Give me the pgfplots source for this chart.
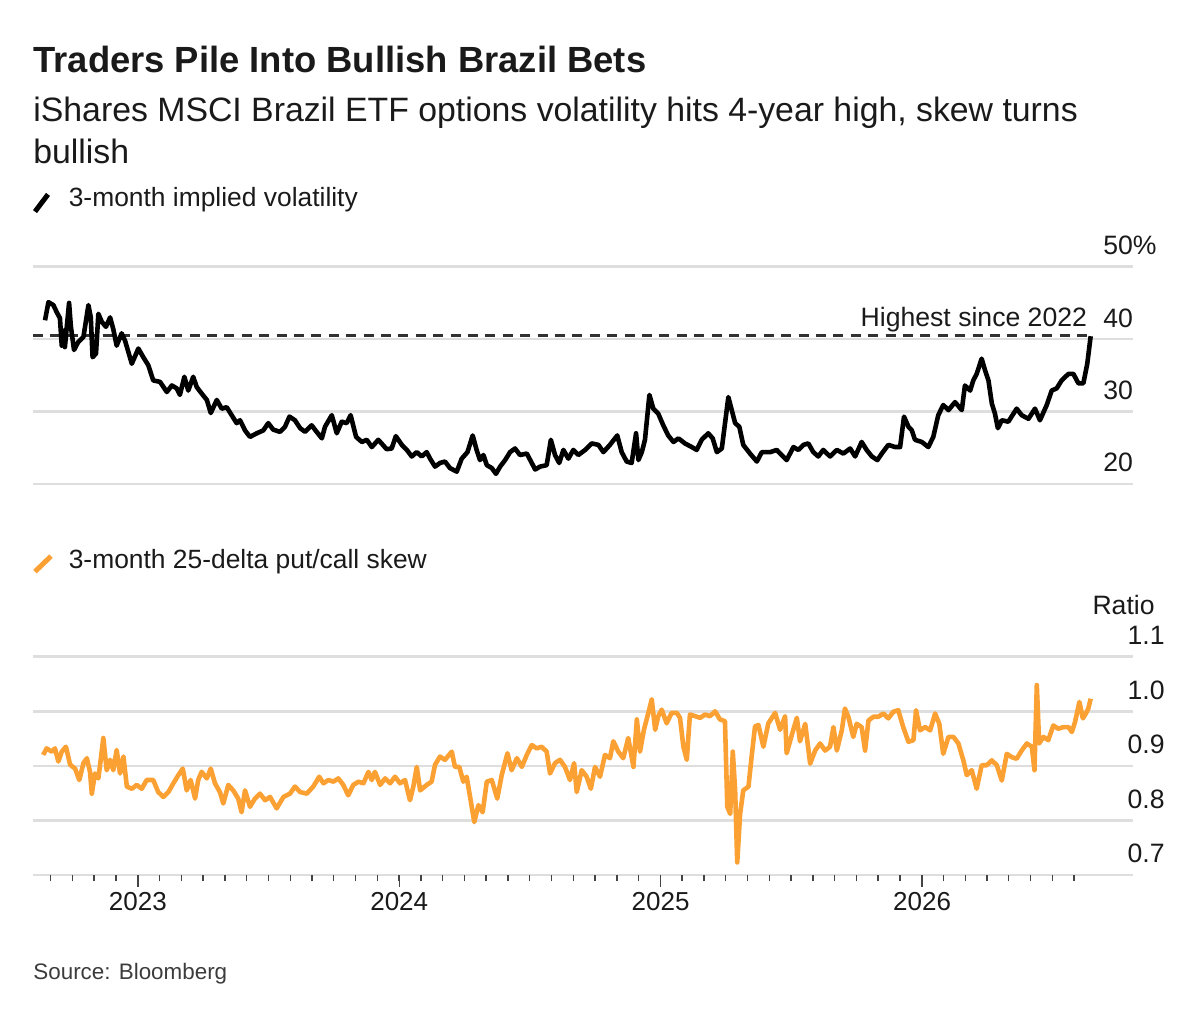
\documentclass[border=0pt]{standalone}
\usepackage{fontspec}
\setmainfont{Liberation Sans}
\usepackage{pgfplots}
\pgfplotsset{compat=1.18}
\definecolor{skew}{HTML}{FBA033}
\definecolor{gridc}{HTML}{DEDEDE}
\definecolor{txt}{HTML}{1A1A1A}
\definecolor{tickc}{HTML}{444444}
\newcommand\tickfont{\fontsize{13.3}{16}\selectfont}

\pgfplotstableread{
x y
2022.645 42.6
2022.658 45.1
2022.677 44.7
2022.690 43.7
2022.702 42.9
2022.709 39.1
2022.719 41.2
2022.721 38.9
2022.737 45.0
2022.744 41.7
2022.756 38.5
2022.772 39.6
2022.792 40.3
2022.811 44.7
2022.820 43.0
2022.827 37.5
2022.840 38.0
2022.849 43.5
2022.862 42.4
2022.878 41.7
2022.894 43.0
2022.906 41.4
2022.919 39.1
2022.938 40.8
2022.951 39.8
2022.977 36.6
2023.002 38.7
2023.021 37.5
2023.040 36.4
2023.059 34.3
2023.085 34.1
2023.111 32.7
2023.130 33.6
2023.149 33.2
2023.161 32.3
2023.178 34.8
2023.193 32.9
2023.212 34.8
2023.225 33.4
2023.244 32.5
2023.264 31.6
2023.279 29.8
2023.302 31.6
2023.321 30.4
2023.340 30.6
2023.359 29.5
2023.378 28.4
2023.391 28.8
2023.410 27.4
2023.429 26.5
2023.455 27.0
2023.480 27.4
2023.499 28.4
2023.518 27.5
2023.544 27.2
2023.563 27.9
2023.580 29.3
2023.601 28.8
2023.621 27.7
2023.640 27.2
2023.665 28.1
2023.684 27.2
2023.704 26.3
2023.716 27.9
2023.742 29.5
2023.761 27.0
2023.780 28.6
2023.799 28.4
2023.814 29.5
2023.835 26.5
2023.857 25.8
2023.876 26.1
2023.895 25.1
2023.920 26.1
2023.952 24.8
2023.971 24.9
2023.987 26.6
2024.010 25.4
2024.029 24.7
2024.048 23.8
2024.067 24.4
2024.086 23.8
2024.105 24.4
2024.118 23.5
2024.137 22.4
2024.156 22.9
2024.175 23.1
2024.194 22.2
2024.220 21.7
2024.239 23.5
2024.261 24.4
2024.281 26.7
2024.296 24.7
2024.309 23.3
2024.322 24.0
2024.335 22.6
2024.354 22.2
2024.370 21.4
2024.386 22.4
2024.405 23.3
2024.424 24.4
2024.443 24.9
2024.462 24.0
2024.488 24.2
2024.507 22.9
2024.520 22.0
2024.539 22.4
2024.564 22.6
2024.580 26.1
2024.596 24.0
2024.612 22.9
2024.628 24.7
2024.647 23.5
2024.666 24.7
2024.685 24.0
2024.711 24.7
2024.736 25.6
2024.762 25.4
2024.781 24.4
2024.806 25.4
2024.834 26.7
2024.851 24.4
2024.870 23.1
2024.889 22.9
2024.906 27.0
2024.915 23.3
2024.928 24.4
2024.940 26.1
2024.957 32.3
2024.972 30.4
2024.991 29.7
2025.010 28.1
2025.029 26.7
2025.049 25.8
2025.068 26.3
2025.093 25.6
2025.119 25.1
2025.138 24.7
2025.157 26.1
2025.182 27.0
2025.199 26.3
2025.215 24.4
2025.234 24.9
2025.259 32.0
2025.272 30.2
2025.285 28.4
2025.301 27.9
2025.316 25.4
2025.342 24.2
2025.368 23.1
2025.387 24.4
2025.419 24.4
2025.444 24.7
2025.463 24.0
2025.482 23.3
2025.508 25.1
2025.527 24.7
2025.546 25.4
2025.565 25.6
2025.584 24.4
2025.603 23.8
2025.622 24.7
2025.648 23.8
2025.674 24.7
2025.699 24.2
2025.725 24.9
2025.744 23.8
2025.769 25.8
2025.788 24.7
2025.808 23.8
2025.829 23.3
2025.846 24.2
2025.871 25.4
2025.897 25.1
2025.916 25.1
2025.931 29.3
2025.948 27.9
2025.961 27.4
2025.973 26.1
2025.999 25.8
2026.024 25.1
2026.043 26.5
2026.062 29.5
2026.081 30.9
2026.101 30.2
2026.126 31.3
2026.152 30.2
2026.164 33.6
2026.184 32.9
2026.196 34.3
2026.209 35.2
2026.228 37.3
2026.241 35.7
2026.254 34.3
2026.267 31.1
2026.279 29.7
2026.290 27.7
2026.305 28.8
2026.330 28.6
2026.362 30.4
2026.381 29.5
2026.407 29.0
2026.432 30.4
2026.451 28.8
2026.477 30.9
2026.496 32.9
2026.515 33.2
2026.534 34.3
2026.560 35.2
2026.579 35.2
2026.598 33.9
2026.617 33.9
2026.632 36.6
2026.645 40.4
}\voltable

\pgfplotstableread{
x y
2022.638 0.920
2022.651 0.932
2022.671 0.926
2022.683 0.932
2022.696 0.908
2022.709 0.926
2022.725 0.935
2022.741 0.902
2022.760 0.895
2022.776 0.874
2022.792 0.905
2022.805 0.914
2022.817 0.889
2022.824 0.849
2022.836 0.886
2022.849 0.877
2022.858 0.911
2022.868 0.951
2022.881 0.892
2022.894 0.911
2022.906 0.892
2022.919 0.929
2022.932 0.886
2022.945 0.917
2022.958 0.862
2022.977 0.858
2022.996 0.865
2023.015 0.858
2023.034 0.874
2023.059 0.874
2023.078 0.852
2023.098 0.843
2023.117 0.852
2023.136 0.868
2023.155 0.883
2023.172 0.895
2023.187 0.855
2023.202 0.874
2023.219 0.840
2023.231 0.874
2023.244 0.889
2023.264 0.877
2023.279 0.895
2023.295 0.868
2023.314 0.852
2023.327 0.831
2023.346 0.865
2023.365 0.855
2023.384 0.840
2023.397 0.815
2023.410 0.855
2023.429 0.825
2023.448 0.840
2023.467 0.849
2023.487 0.837
2023.506 0.843
2023.531 0.822
2023.557 0.843
2023.582 0.849
2023.601 0.862
2023.621 0.852
2023.646 0.849
2023.671 0.862
2023.694 0.880
2023.710 0.868
2023.729 0.874
2023.748 0.871
2023.767 0.877
2023.786 0.865
2023.805 0.846
2023.824 0.865
2023.844 0.871
2023.863 0.868
2023.882 0.889
2023.895 0.874
2023.907 0.889
2023.927 0.865
2023.946 0.877
2023.965 0.868
2023.984 0.880
2024.003 0.868
2024.022 0.874
2024.041 0.837
2024.054 0.862
2024.067 0.898
2024.080 0.855
2024.105 0.865
2024.124 0.871
2024.137 0.902
2024.156 0.917
2024.175 0.911
2024.201 0.926
2024.213 0.898
2024.230 0.898
2024.245 0.871
2024.258 0.880
2024.271 0.843
2024.287 0.797
2024.303 0.828
2024.319 0.815
2024.335 0.871
2024.354 0.874
2024.375 0.840
2024.392 0.883
2024.414 0.923
2024.430 0.892
2024.450 0.914
2024.469 0.898
2024.488 0.920
2024.507 0.938
2024.526 0.932
2024.545 0.935
2024.564 0.926
2024.577 0.886
2024.596 0.905
2024.615 0.911
2024.634 0.898
2024.653 0.874
2024.669 0.905
2024.679 0.852
2024.698 0.892
2024.717 0.880
2024.733 0.858
2024.749 0.898
2024.768 0.880
2024.787 0.920
2024.806 0.914
2024.819 0.945
2024.838 0.926
2024.857 0.914
2024.876 0.951
2024.896 0.898
2024.909 0.985
2024.921 0.926
2024.936 0.966
2024.953 0.997
2024.966 1.022
2024.979 0.966
2024.991 0.991
2025.004 1.003
2025.023 0.978
2025.042 0.997
2025.062 0.997
2025.074 0.988
2025.087 0.935
2025.100 0.911
2025.112 0.994
2025.132 0.991
2025.151 0.988
2025.170 0.994
2025.189 0.991
2025.208 1.000
2025.227 0.985
2025.246 0.982
2025.255 0.825
2025.266 0.812
2025.276 0.926
2025.285 0.855
2025.293 0.723
2025.304 0.812
2025.316 0.855
2025.336 0.862
2025.348 0.917
2025.361 0.972
2025.374 0.975
2025.393 0.935
2025.412 0.978
2025.438 0.997
2025.457 0.966
2025.476 0.991
2025.482 0.923
2025.502 0.957
2025.521 0.988
2025.533 0.945
2025.553 0.977
2025.572 0.904
2025.591 0.928
2025.610 0.941
2025.629 0.928
2025.648 0.935
2025.661 0.971
2025.674 0.928
2025.693 0.965
2025.705 1.005
2025.718 0.990
2025.737 0.953
2025.750 0.977
2025.769 0.971
2025.782 0.928
2025.795 0.983
2025.814 0.990
2025.833 0.990
2025.852 0.996
2025.871 0.987
2025.890 0.999
2025.909 1.002
2025.928 0.971
2025.948 0.944
2025.967 0.947
2025.977 1.002
2025.992 0.965
2026.012 0.971
2026.031 0.965
2026.050 0.996
2026.066 0.977
2026.081 0.922
2026.101 0.953
2026.120 0.953
2026.139 0.941
2026.158 0.910
2026.171 0.883
2026.190 0.892
2026.209 0.858
2026.228 0.901
2026.247 0.901
2026.267 0.910
2026.286 0.901
2026.305 0.873
2026.324 0.922
2026.343 0.916
2026.362 0.913
2026.381 0.928
2026.401 0.941
2026.420 0.935
2026.430 0.892
2026.439 1.048
2026.448 0.941
2026.464 0.953
2026.483 0.947
2026.502 0.974
2026.521 0.968
2026.541 0.971
2026.560 0.971
2026.573 0.962
2026.585 0.980
2026.602 1.017
2026.615 0.987
2026.627 0.996
2026.636 1.005
2026.645 1.023
}\skewtable

\begin{document}
\begin{tikzpicture}
\path[use as bounding box] (0,0) rectangle (600pt,513pt);
% titles
\node[anchor=base west, inner sep=0pt, text=txt, font=\fontsize{18.2}{22}\selectfont\bfseries] at (16.5pt,476.5pt) {Traders Pile Into Bullish Brazil Bets};
\node[anchor=base west, inner sep=0pt, text=txt, font=\fontsize{16.9}{20}\selectfont] at (16.5pt,452.2pt) {iShares MSCI Brazil ETF options volatility hits 4-year high, skew turns};
\node[anchor=base west, inner sep=0pt, text=txt, font=\fontsize{16.9}{20}\selectfont] at (16.5pt,431.4pt) {bullish};
% legend keys
\draw[line width=2.5pt, black] (17.5pt,407.2pt) -- (24.0pt,415.8pt);
\node[anchor=base west, inner sep=0pt, text=txt, font=\fontsize{13.2}{16}\selectfont] at (34.2pt,409.7pt) {3-month implied volatility};
\draw[line width=2.5pt, skew] (17.5pt,227.2pt) -- (25.5pt,234.9pt);
\node[anchor=base west, inner sep=0pt, text=txt, font=\fontsize{13.2}{16}\selectfont] at (34.2pt,228.9pt) {3-month 25-delta put/call skew};
% source
\node[anchor=base west, inner sep=0pt, text=txt!85, font=\fontsize{11.2}{14}\selectfont] at (16.5pt,23pt) {Source: Bloomberg};

% top panel
\begin{axis}[
  at={(16.5pt,271pt)}, anchor=south west,
  scale only axis, width=550pt, height=108.65pt,
  xmin=2022.599, xmax=2026.807, ymin=20, ymax=50,
  axis line style={draw=none},
  xtick=\empty,
  ytick={20,30,40,50}, yticklabels={20,30,40,50\%},
  ytick pos=right, yticklabel pos=right,
  ytick style={draw=none},
  yticklabel style={anchor=base west, inner sep=0pt, xshift=-15pt, yshift=6pt, font=\tickfont, text=txt},
  ymajorgrids, major grid style={draw=gridc, line width=1.3pt},
  clip=false,
]
\addplot[draw=txt!90, line width=1.5pt, dash pattern=on 5pt off 3.7pt] coordinates {(2022.599,40.5) (2026.645,40.5)};
\addplot[black, line width=2.3pt, line join=round] table[x=x,y=y] {\voltable};
\node[anchor=base east, inner sep=0pt, font=\tickfont, text=txt] at (axis cs:2026.64,40.5) [yshift=4.5pt, xshift=-1pt] {Highest since 2022};
\end{axis}

% bottom panel
\begin{axis}[
  at={(16.5pt,75.5pt)}, anchor=south west,
  scale only axis, width=550pt, height=109.15pt,
  xmin=2022.599, xmax=2026.807, ymin=0.7, ymax=1.1,
  axis line style={draw=none},
  xtick={2023,2024,2025,2026}, xticklabels={2023,2024,2025,2026},
  minor xtick={2022.66667,2022.75,...,2026.6},
  xtick pos=bottom, tick align=outside,
  major tick length=6pt, minor tick length=3.2pt,
  xtick style={draw=tickc, line width=0.7pt},
  minor tick style={draw=tickc, line width=0.7pt},
  xticklabel style={font=\fontsize{13}{16}\selectfont, text=txt, inner sep=0pt, anchor=base, yshift=-11.8pt},
  ytick={0.7,0.8,0.9,1.0,1.1}, yticklabels={0.7,0.8,0.9,1.0,1.1},
  ytick pos=right, yticklabel pos=right,
  ytick style={draw=none},
  yticklabel style={anchor=base east, inner sep=0pt, xshift=10pt, yshift=6pt, font=\tickfont, text=txt},
  ymajorgrids, major grid style={draw=gridc, line width=1.3pt},
  clip=false,
]
\addplot[skew, line width=2.3pt, line join=round] table[x=x,y=y] {\skewtable};
\node[anchor=base east, inner sep=0pt, font=\tickfont, text=txt] at (rel axis cs:1,1) [xshift=11pt, yshift=20.9pt] {Ratio};
\end{axis}
\end{tikzpicture}
\end{document}
